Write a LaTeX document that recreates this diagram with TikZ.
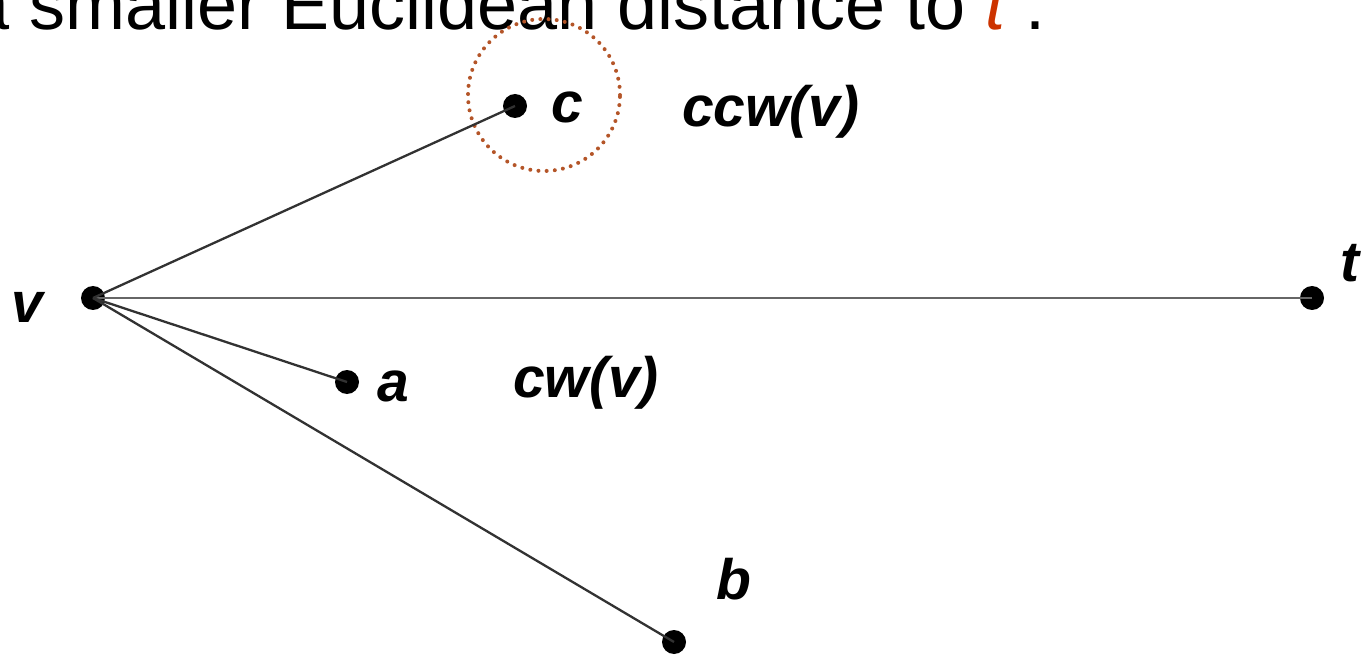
\documentclass[tikz,border=0pt]{standalone}
\usepackage{fontspec}
\setmainfont{Liberation Sans}
\definecolor{tred}{RGB}{204,51,0}
\definecolor{ring}{RGB}{180,85,40}
\definecolor{edgegray}{RGB}{50,50,50}
\tikzset{
  pt/.style={circle,fill=black,inner sep=0pt,minimum size=24pt},
  lbl/.style={inner sep=0pt,anchor=base west,font=\fontsize{57}{62}\selectfont\bfseries\itshape},
  edge/.style={draw=edgegray,line width=2.3pt},
}
\begin{document}
\begin{tikzpicture}[x=1pt,y=1pt]
\useasboundingbox (0,0) rectangle (1361,-655);
\clip (0,0) rectangle (1361,-655);
% title text (cut at the top edge)
\node[inner sep=0pt,anchor=base west,font=\fontsize{72}{80}\selectfont] (title) at (-31,-30) {a smaller Euclidean distance to \textcolor{tred}{\itshape t} .};
% ring
\draw[ring,line width=4pt,dash pattern=on 0pt off 8.2pt,line cap=round] (544,-95) circle (76);
% points
\node[pt] (v) at (93,-298) {};
\node[pt] (c) at (515,-106) {};
\node[pt] (t) at (1312,-298) {};
\node[pt] (a) at (347,-382) {};
\node[pt] (b) at (674,-642) {};
% edges
\draw[draw=gray!80!black,line width=1.8pt] (v.center) -- (t.center);
\draw[edge] (v.center) -- (c.center);
\draw[edge] (v.center) -- (a.center);
\draw[edge] (v.center) -- (b.center);
% labels
\node[lbl] (lc) at (551,-123) {c};
\node[lbl] (lccw) at (682,-127) {ccw(v)};
\node[lbl] (lv) at (11,-323) {v};
\node[lbl] (lt) at (1340,-282) {t};
\node[lbl] (la) at (377,-401) {a};
\node[lbl] (lcw) at (513,-397) {cw(v)};
\node[lbl] (lb) at (716,-599) {b};
\end{tikzpicture}
\end{document}
